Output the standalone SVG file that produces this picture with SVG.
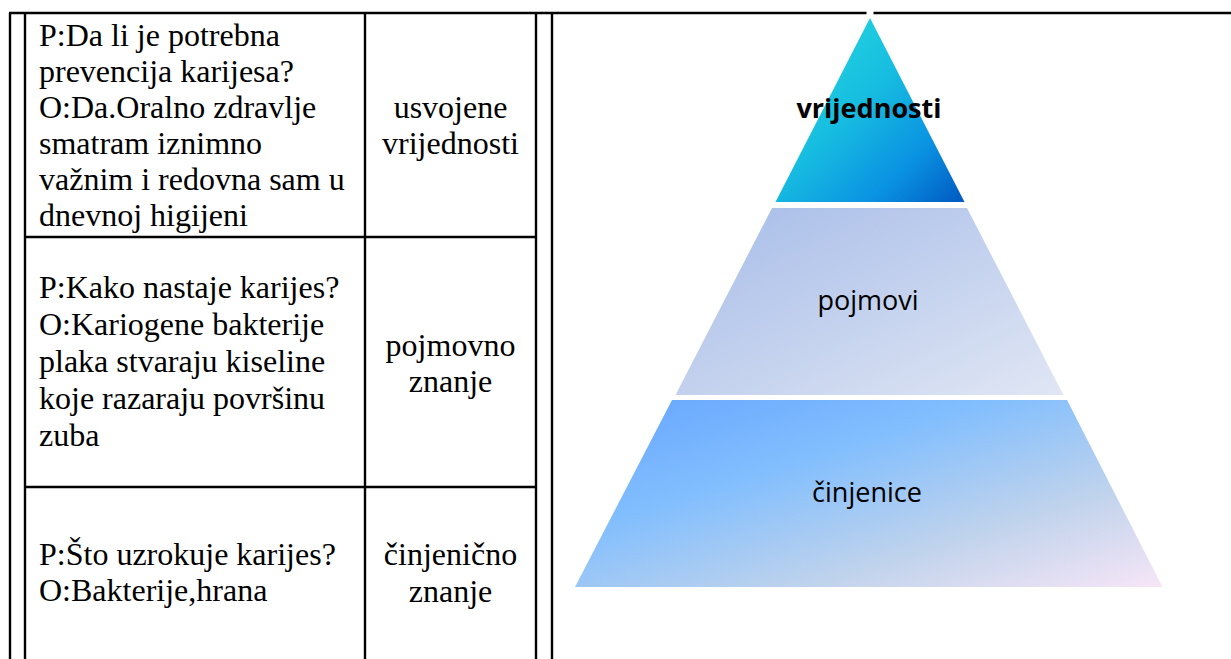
<svg xmlns="http://www.w3.org/2000/svg" width="1231" height="659" viewBox="0 0 1231 659">
<style>
.ln{stroke:#000;stroke-width:2.4;fill:none}
.tt{font-family:"Liberation Serif","Times New Roman",serif;font-size:32px;fill:#000}
.tc{text-anchor:middle}
.pt{font-family:"Open Sans","Liberation Sans",sans-serif;font-size:27px;fill:#000;text-anchor:middle}
</style>
<defs>
<linearGradient id="gTop" x1="0" y1="0" x2="1" y2="1">
<stop offset="0" stop-color="#27DFDF"/>
<stop offset="0.45" stop-color="#17BDE0"/>
<stop offset="0.75" stop-color="#0A92E2"/>
<stop offset="1" stop-color="#0058C0"/>
</linearGradient>
<linearGradient id="gMid" x1="0" y1="0" x2="1" y2="1">
<stop offset="0" stop-color="#A6BCE8"/>
<stop offset="1" stop-color="#E0E6F4"/>
</linearGradient>
<linearGradient id="gBot" x1="0" y1="0" x2="1" y2="1">
<stop offset="0" stop-color="#66A4FE"/>
<stop offset="0.35" stop-color="#81BEFE"/>
<stop offset="0.7" stop-color="#C0D3EC"/>
<stop offset="1" stop-color="#F7E6F7"/>
</linearGradient>
</defs>
<rect width="1231" height="659" fill="#fff"/>
<g id="table-lines">
<line class="ln" x1="9" y1="13" x2="1231" y2="13"/>
<line class="ln" x1="10" y1="13" x2="10" y2="659"/>
<line class="ln" x1="25" y1="13" x2="25" y2="659"/>
<line class="ln" x1="365" y1="13" x2="365" y2="659"/>
<line class="ln" x1="536" y1="13" x2="536" y2="659"/>
<line class="ln" x1="552" y1="13" x2="552" y2="659"/>
<line class="ln" x1="25" y1="237" x2="536" y2="237"/>
<line class="ln" x1="25" y1="487" x2="536" y2="487"/>
</g>
<g id="row1">
<text class="tt" x="39" y="46">P:Da li je potrebna</text>
<text class="tt" x="39" y="82">prevencija karijesa?</text>
<text class="tt" x="39" y="118">O:Da.Oralno zdravlje</text>
<text class="tt" x="39" y="154">smatram iznimno</text>
<text class="tt" x="39" y="190">važnim i redovna sam u</text>
<text class="tt" x="39" y="226">dnevnoj higijeni</text>
<text class="tt tc" x="450.5" y="118">usvojene</text>
<text class="tt tc" x="450.5" y="154">vrijednosti</text>
</g>
<g id="row2">
<text class="tt" x="39" y="298">P:Kako nastaje karijes?</text>
<text class="tt" x="39" y="335">O:Kariogene bakterije</text>
<text class="tt" x="39" y="372">plaka stvaraju kiseline</text>
<text class="tt" x="39" y="409">koje razaraju površinu</text>
<text class="tt" x="39" y="446">zuba</text>
<text class="tt tc" x="450.5" y="356">pojmovno</text>
<text class="tt tc" x="450.5" y="392">znanje</text>
</g>
<g id="row3">
<text class="tt" x="39" y="565">P:Što uzrokuje karijes?</text>
<text class="tt" x="39" y="601">O:Bakterije,hrana</text>
<text class="tt tc" x="450.5" y="565">činjenično</text>
<text class="tt tc" x="450.5" y="602">znanje</text>
</g>
<g id="pyr-top">
<rect x="866.5" y="10" width="7" height="6" fill="#fff"/>
<polygon points="870,18 964.5,202 775.5,202" fill="url(#gTop)"/>
<text class="pt" x="869" y="118" font-weight="bold">vrijednosti</text>
</g>
<g id="pyr-mid">
<polygon points="772,208 967,208 1063.5,395 675.5,395" fill="url(#gMid)"/>
<text class="pt" x="868" y="310">pojmovi</text>
</g>
<g id="pyr-bot">
<polygon points="672,400 1067,400 1162.5,587 575,587" fill="url(#gBot)"/>
<text class="pt" x="867" y="502">činjenice</text>
</g>
</svg>
